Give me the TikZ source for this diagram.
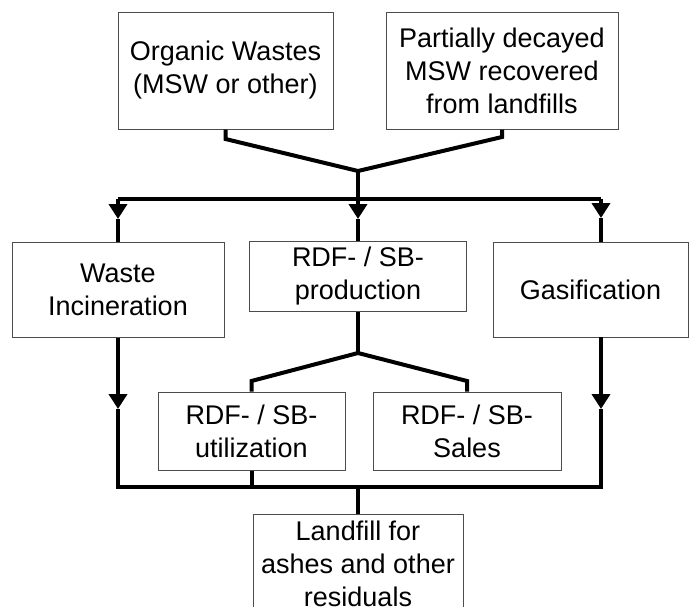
\documentclass[tikz,border=0pt]{standalone}
\usepackage{fontspec}
\setmainfont{Liberation Sans}
\usetikzlibrary{arrows.meta}
\begin{document}
\begin{tikzpicture}[x=1pt,y=-1pt,
  box/.style={draw=black!70, line width=1pt, fill=white, align=center,
    inner sep=0pt, font=\fontsize{27}{33}\selectfont},
  conn/.style={line width=4pt, line join=miter},
  tipconn/.style={conn, -{Triangle[width=18pt,length=15pt]}}]
\useasboundingbox (0,0) rectangle (697,606);
\clip (0,0) rectangle (697,606);

% source boxes
\node[box, minimum width=215pt, minimum height=117pt] (org) at (225.5,70.5)
  {Organic Wastes\\(MSW or other)};
\node[box, minimum width=232pt, minimum height=117pt] (part) at (502,70.5)
  {Partially decayed\\MSW recovered\\from landfills};

% treatment boxes
\node[box, minimum width=212pt, minimum height=95pt] (inc) at (118,289.5)
  {Waste\\Incineration};
\node[box, minimum width=217pt, minimum height=70pt] (prod) at (358,276)
  {RDF- / SB-\\production};
\node[box, minimum width=195pt, minimum height=95pt] (gas) at (590.5,289.5)
  {Gasification};

% RDF / SB outlets
\node[box, minimum width=187pt, minimum height=78pt] (util) at (251.5,431)
  {RDF- / SB-\\utilization};
\node[box, minimum width=188pt, minimum height=78pt] (sales) at (467,431)
  {RDF- / SB-\\Sales};

% final disposal
\node[box, minimum width=210pt, minimum height=100pt] (land) at (358,564)
  {Landfill for\\ashes and other\\residuals};

% junction points
\coordinate (orgstub) at (225.5,139);
\coordinate (partstub) at (502,137);
\coordinate (j1) at (358,171);
\coordinate (barL) at (118,199);
\coordinate (barC) at (358,199);
\coordinate (barR) at (601,199);
\coordinate (tipL) at (118,219);
\coordinate (tipC) at (358,219);
\coordinate (tipR) at (601,218);
\coordinate (j2) at (358,353);
\coordinate (brL) at (251.5,381);
\coordinate (brR) at (467,381);
\coordinate (gasTop) at (601,242);
\coordinate (gasBot) at (601,337);
\coordinate (tipLL) at (118,409);
\coordinate (tipRR) at (601,409);
\coordinate (botL) at (118,487);
\coordinate (botU) at (251.5,487);
\coordinate (botC) at (358,487);
\coordinate (botR) at (601,487);

% merging the two sources
\draw[conn] (org.south) -- (orgstub) -- (j1);
\draw[conn] (part.south) -- (partstub) -- (j1);
\draw[conn] (j1) -- (barC);
\draw[conn] (barL) -- (barR);

% distribution to the three treatments
\draw[tipconn] (barL) -- (tipL);
\draw[conn] (tipL) -- (inc.north);
\draw[tipconn] (barC) -- (tipC);
\draw[conn] (tipC) -- (prod.north);
\draw[tipconn] (barR) -- (tipR);
\draw[conn] (tipR) -- (gasTop);

% RDF / SB split
\draw[conn] (prod.south) -- (j2);
\draw[conn] (j2) -- (brL) -- (util.north);
\draw[conn] (j2) -- (brR) -- (sales.north);

% residues to landfill
\draw[tipconn] (inc.south) -- (tipLL);
\draw[tipconn] (gasBot) -- (tipRR);
\draw[conn] (tipLL) -- (botL) -- (botR) -- (tipRR);
\draw[conn] (util.south) -- (botU);
\draw[conn] (botC) -- (land.north);
\end{tikzpicture}
\end{document}
